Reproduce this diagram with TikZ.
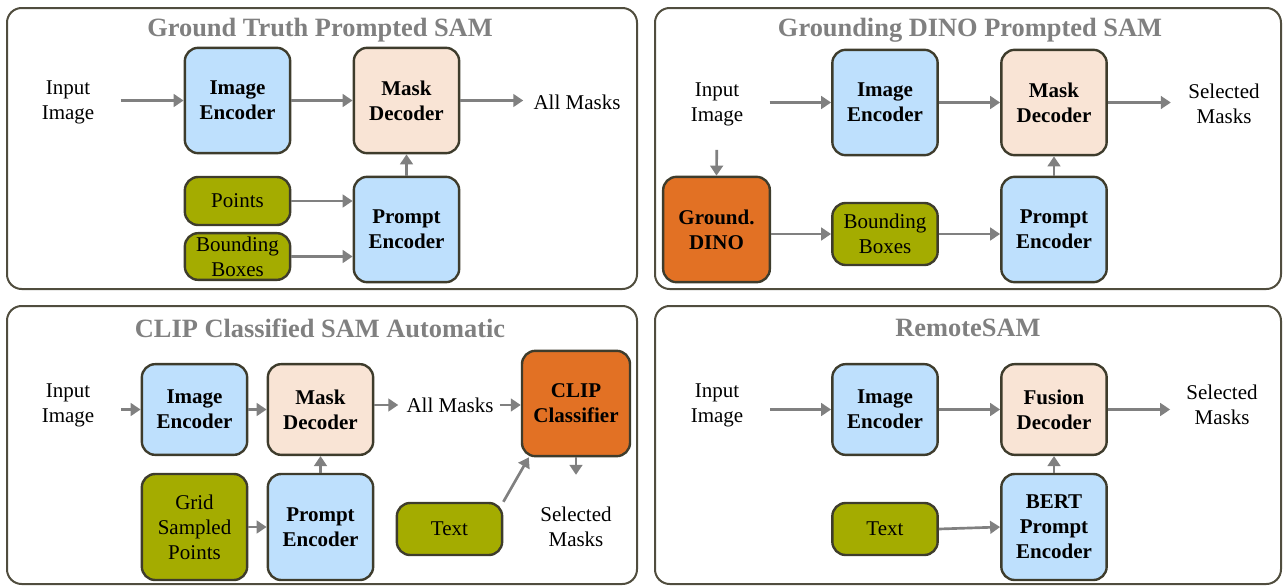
\documentclass[tikz,border=0pt]{standalone}
\usepackage{fontspec}
\setmainfont{Liberation Serif}
\usepackage{tikz}
\usetikzlibrary{arrows.meta}

\definecolor{framecol}{RGB}{80,77,62}
\definecolor{edgecol}{RGB}{62,60,44}
\definecolor{enccol}{RGB}{190,224,253}
\definecolor{deccol}{RGB}{249,228,213}
\definecolor{promptcol}{RGB}{164,172,0}
\definecolor{modelcol}{RGB}{226,113,36}
\definecolor{flowcol}{RGB}{128,128,128}

\tikzset{
  panel/.style={draw=framecol, line width=1.5pt, rounded corners=11pt},
  paneltitle/.style={font=\fontsize{19.8}{22}\selectfont\bfseries, text=flowcol, inner sep=0pt},
  blk/.style={draw=edgecol, line width=1.8pt, rounded corners=10pt, align=center, inner sep=0pt,
    minimum width=79pt, font=\fontsize{15.75}{18.75}\selectfont\bfseries},
  enc/.style={blk, fill=enccol},
  dec/.style={blk, fill=deccol},
  model/.style={blk, fill=modelcol},
  prm/.style={blk, fill=promptcol, font=\fontsize{15.75}{18.75}\selectfont},
  lbl/.style={align=center, inner sep=0pt, font=\fontsize{15.75}{18.75}\selectfont},
  flow/.style={draw=flowcol, line width=2pt, -{Triangle[length=7.5pt, width=9.5pt]}},
}

\begin{document}
\begin{tikzpicture}[x=0.75pt, y=-0.75pt]
\useasboundingbox (0,0) rectangle (1283,586);
% frames
\draw[panel] (7,8) rectangle (637,289);
\draw[panel] (655,8) rectangle (1281,289);
\draw[panel] (7,306) rectangle (637,584);
\draw[panel] (655,306) rectangle (1281,584);

% ground truth prompted SAM
\node[paneltitle] (t1) at (320,30) {Ground Truth Prompted SAM};
\node[lbl] (in1) at (68,102) {Input\\Image};
\node[enc, minimum height=79pt] (ie1) at (237.5,100.5) {Image\\Encoder};
\node[dec, minimum height=79pt] (md1) at (406.5,100.5) {Mask\\Decoder};
\node[lbl] (am1) at (577,102) {All Masks};
\node[prm, minimum height=36pt] (pt1) at (237.5,201) {Points};
\node[prm, minimum height=35pt] (bb1) at (237.5,256.5) {Bounding\\Boxes};
\node[enc, minimum height=79pt] (pe1) at (406.5,229.5) {Prompt\\Encoder};
\draw[flow, shorten <=19.5pt] (in1.east |- ie1) -- (ie1.west);
\draw[flow] (ie1) -- (md1);
\draw[flow, shorten >=7.5pt] (md1.east) -- (am1.west |- md1);
\draw[flow] (pt1.east) -- (pt1.east -| pe1.west);
\draw[flow] (bb1.east) -- (bb1.east -| pe1.west);
\draw[flow] (pe1) -- (md1);

% grounding DINO prompted SAM
\node[paneltitle] (t2) at (970,30) {Grounding DINO Prompted SAM};
\node[lbl] (in2) at (717,104) {Input\\Image};
\node[enc, minimum height=79pt] (ie2) at (885,102.5) {Image\\Encoder};
\node[dec, minimum height=79pt] (md2) at (1054,102.5) {Mask\\Decoder};
\node[lbl] (sm2) at (1224,104) {Selected\\Masks};
\node[model, minimum height=79pt, minimum width=80pt] (gd2) at (716.5,229.5) {Ground.\\DINO};
\node[prm, minimum height=46.5pt] (bb2) at (885,234) {Bounding\\Boxes};
\node[enc, minimum height=79pt] (pe2) at (1054,229.5) {Prompt\\Encoder};
\draw[flow, shorten <=19.5pt] (in2.east |- ie2) -- (ie2.west);
\draw[flow] (ie2) -- (md2);
\draw[flow, shorten >=13pt] (md2.east) -- (sm2.west |- md2);
\draw[flow, shorten <=18pt] (in2.south) -- (gd2.north);
\draw[flow] (gd2.east |- bb2) -- (bb2.west);
\draw[flow] (bb2) -- (bb2 -| pe2.west);
\draw[flow] (pe2) -- (md2);

% CLIP classified SAM automatic
\node[paneltitle] (t3) at (320,328) {CLIP Classified SAM Automatic};
\node[lbl] (in3) at (68,405) {Input\\Image};
\node[enc, minimum height=68pt] (ie3) at (194.5,409.5) {Image\\Encoder};
\node[dec, minimum height=68pt] (md3) at (320.5,409.5) {Mask\\Decoder};
\node[lbl] (am3) at (450,405) {All Masks};
\node[model, minimum height=79pt, minimum width=81pt] (cl3) at (576,403.5) {CLIP\\Classifier};
\node[prm, minimum height=79.5pt] (gs3) at (194.5,527) {Grid\\Sampled\\Points};
\node[enc, minimum height=79.5pt] (pe3) at (320.5,527) {Prompt\\Encoder};
\node[prm, minimum height=39pt] (tx3) at (449.5,529) {Text};
\node[lbl] (sm3) at (576,527) {Selected\\Masks};
\draw[flow, shorten <=20pt] (in3.east |- ie3) -- (ie3.west);
\draw[flow] (ie3) -- (md3);
\draw[flow, shorten >=6pt] (md3.east |- am3) -- (am3.west);
\draw[flow, shorten <=4.5pt] (am3.east) -- (am3.east -| cl3.west);
\draw[flow, shorten >=24pt] (cl3.south) -- (sm3.north);
\draw[flow] (tx3.north east) -- ([xshift=6pt]cl3.south west);
\draw[flow] (gs3) -- (pe3);
\draw[flow] (pe3) -- (md3);

% RemoteSAM
\node[paneltitle] (t4) at (968,328) {RemoteSAM};
\node[lbl] (in4) at (717,405) {Input\\Image};
\node[enc, minimum height=68pt] (ie4) at (885,409.5) {Image\\Encoder};
\node[dec, minimum height=68pt] (fd4) at (1054,409.5) {Fusion\\Decoder};
\node[lbl] (sm4) at (1222,405) {Selected\\Masks};
\node[prm, minimum height=39pt] (tx4) at (885,529) {Text};
\node[enc, minimum height=79.5pt] (bp4) at (1054,527) {BERT\\Prompt\\Encoder};
\draw[flow, shorten <=20pt] (in4.east |- ie4) -- (ie4.west);
\draw[flow] (ie4) -- (fd4);
\draw[flow, shorten >=12pt] (fd4.east) -- (sm4.west |- fd4);
\draw[flow] (tx4.east) -- (bp4.west);
\draw[flow] (bp4) -- (fd4);
\end{tikzpicture}
\end{document}
